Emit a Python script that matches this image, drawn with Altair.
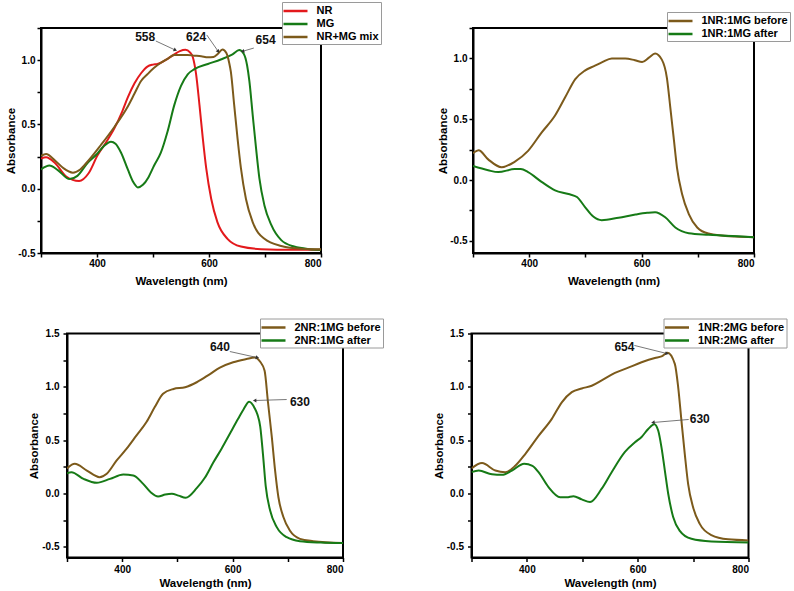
import math
import altair as alt
import pandas as pd

FONT = "Liberation Sans"
RED = "#E3191C"
GREEN = "#167A16"
BROWN = "#7C5A1B"

# ---------------- Panel 1: NR, MG and their mixture ----------------
nr_wl = [300, 309, 325, 345, 368, 385, 401, 416, 431, 445, 455, 467, 479, 490, 500, 508,
         514, 526, 538, 548, 558, 566, 571, 577, 583, 589, 595, 604, 615, 633, 657, 693, 750, 800]
nr_ab = [0.235, 0.245, 0.20, 0.095, 0.06, 0.12, 0.26, 0.36, 0.47, 0.60, 0.71, 0.82, 0.90, 0.95, 0.965, 0.97,
         0.98, 1.01, 1.045, 1.07, 1.08, 1.06, 1.025, 0.89, 0.65, 0.39, 0.16, -0.08, -0.26, -0.39, -0.45, -0.47, -0.475, -0.475]

mg_wl = [300, 315, 330, 351, 365, 383, 400, 412, 425, 433, 443, 455, 465, 473, 482, 492, 502, 514,
         526, 538, 550, 562, 574, 598, 621, 642, 654, 662, 668, 672, 678, 684, 690, 699, 711, 729, 752, 780, 800]
mg_ab = [0.15, 0.18, 0.145, 0.075, 0.10, 0.20, 0.27, 0.33, 0.365, 0.35, 0.28, 0.15, 0.05, 0.01, 0.03, 0.09, 0.18, 0.28,
         0.445, 0.65, 0.80, 0.89, 0.93, 0.97, 1.005, 1.045, 1.078, 1.05, 0.96, 0.84, 0.575, 0.315, 0.08, -0.13, -0.28, -0.40, -0.45, -0.47, -0.475]

mix_wl = [300, 309, 325, 340, 357, 370, 383, 407, 431, 455, 467, 479, 490, 502, 514, 526, 538, 550,
          562, 574, 586, 598, 608, 616, 624, 631, 636, 639, 645, 651, 657, 666, 678, 699, 729, 764, 800]
mix_ab = [0.255, 0.27, 0.22, 0.16, 0.125, 0.15, 0.21, 0.34, 0.48, 0.64, 0.74, 0.84, 0.89, 0.94, 0.98, 1.01, 1.04, 1.04,
          1.04, 1.035, 1.03, 1.022, 1.025, 1.05, 1.083, 1.055, 0.98, 0.91, 0.65, 0.39, 0.16, -0.08, -0.26, -0.39, -0.445, -0.466, -0.47]

# ---------------- Panel 2: 1NR:1MG ----------------
b11_wl = [300, 310, 327, 351, 374, 398, 422, 446, 464, 482, 499, 517, 530, 547, 571, 588, 601, 613,
          624, 636, 645, 651, 657, 663, 672, 684, 699, 719, 766, 800]
b11_ab = [0.22, 0.245, 0.17, 0.105, 0.15, 0.24, 0.39, 0.53, 0.68, 0.83, 0.90, 0.94, 0.97, 1.0, 1.0, 0.985, 0.97, 1.006,
          1.04, 0.99, 0.84, 0.60, 0.35, 0.10, -0.115, -0.28, -0.39, -0.44, -0.465, -0.47]
a11_wl = [300, 327, 345, 374, 385, 398, 422, 446, 470, 485, 499, 514, 529, 559, 589, 610, 624, 642,
          660, 684, 719, 779, 800]
a11_ab = [0.115, 0.08, 0.065, 0.09, 0.09, 0.065, -0.015, -0.085, -0.115, -0.14, -0.22, -0.30, -0.33, -0.31, -0.284, -0.27, -0.265, -0.306,
          -0.39, -0.437, -0.45, -0.465, -0.47]

# ---------------- Panel 3: 2NR:1MG ----------------
b21_wl = [300, 314, 336, 359, 372, 390, 408, 426, 444, 459, 474, 493, 514, 535, 559, 577, 601, 625,
          640, 650, 658, 664, 671, 677, 683, 692, 704, 722, 746, 800]
b21_ab = [0.235, 0.278, 0.215, 0.153, 0.185, 0.31, 0.42, 0.545, 0.67, 0.81, 0.935, 0.98, 0.996, 1.043, 1.12, 1.18, 1.23, 1.26,
          1.275, 1.235, 1.15, 0.86, 0.53, 0.215, -0.035, -0.22, -0.35, -0.425, -0.447, -0.465]
a21_wl = [300, 308, 330, 354, 378, 402, 420, 438, 452, 465, 478, 490, 502, 515, 535, 550, 565, 580,
          595, 610, 620, 630, 640, 645, 650, 655, 660, 668, 680, 698, 722, 760, 800]
a21_ab = [0.19, 0.20, 0.137, 0.10, 0.137, 0.178, 0.169, 0.09, 0.01, -0.028, -0.01, -0.003, -0.02, -0.04, 0.05, 0.15, 0.29, 0.42,
          0.56, 0.70, 0.79, 0.86, 0.80, 0.74, 0.63, 0.37, 0.07, -0.16, -0.315, -0.41, -0.447, -0.46, -0.465]

# ---------------- Panel 4: 1NR:2MG ----------------
b12_wl = [300, 319, 343, 361, 379, 397, 421, 445, 463, 481, 499, 517, 535, 559, 583, 607, 631, 643,
          654, 667, 673, 679, 685, 691, 700, 712, 733, 763, 800]
b12_ab = [0.235, 0.285, 0.215, 0.20, 0.26, 0.37, 0.54, 0.70, 0.855, 0.95, 0.985, 1.01, 1.06, 1.13, 1.18, 1.23, 1.27, 1.285,
          1.32, 1.215, 1.0, 0.68, 0.37, 0.09, -0.13, -0.285, -0.39, -0.43, -0.44]
a12_wl = [300, 313, 337, 355, 373, 395, 410, 421, 439, 460, 472, 484, 499, 514, 535, 553, 577, 595,
          607, 619, 630, 637, 643, 649, 655, 664, 676, 697, 733, 800]
a12_ab = [0.20, 0.215, 0.18, 0.175, 0.215, 0.28, 0.26, 0.20, 0.06, -0.035, -0.035, -0.025, -0.055, -0.08, 0.045, 0.20, 0.39, 0.48,
          0.53, 0.605, 0.65, 0.59, 0.43, 0.215, 0.0, -0.22, -0.35, -0.425, -0.45, -0.46]

# Peak annotations: label, label position, arrow start and arrow tip (data units)
p1_notes = dict(text=["558", "624", "654"],
                tx=[486, 577, 701], ty=[1.18, 1.18, 1.153],
                x0=[505, 596, 680], y0=[1.149, 1.196, 1.094],
                x1=[539, 616, 661], y1=[1.08, 1.071, 1.07])
p3_notes = dict(text=["640", "630"],
                tx=[577, 722], ty=[1.378, 0.862],
                x0=[595, 698], y0=[1.331, 0.881],
                x1=[644, 641], y1=[1.275, 0.872])
p4_notes = dict(text=["654", "630"],
                tx=[576, 712], ty=[1.369, 0.694],
                x0=[594, 692], y0=[1.388, 0.694],
                x1=[652, 628.5], y1=[1.313, 0.666])


def quarter_ticks(lo, hi):
    n = int(round((hi - lo) / 0.25))
    return [lo + 0.25 * i for i in range(n + 1)]


def panel(series, ydom, yticks, w, h, leg_xy, notes=None, row=1):
    rows = []
    for name, color, wl, ab in series:
        for a, b in zip(wl, ab):
            rows.append({"series": name, "wl": a, "ab": b})
    df = pd.DataFrame(rows)
    names = [s[0] for s in series]
    colors = [s[1] for s in series]

    if row == 1:
        ytick, ylp, ytp, xlp, xtp = 4, 2, 1, 1, 7
    else:
        ytick, ylp, ytp, xlp, xtp = 4, 4, 2, 3, 3

    axis_style = dict(domainColor="black", domainWidth=2, tickColor="black", tickWidth=1.5,
                      labelFont=FONT, labelFontWeight="bold", labelFontSize=10, labelColor="black",
                      titleFont=FONT, titleFontWeight="bold", titleFontSize=11.5, titleColor="black",
                      grid=False)
    x_enc = alt.X("wl:Q", title="Wavelength (nm)",
                  scale=alt.Scale(domain=[300, 800], nice=False, zero=False),
                  axis=alt.Axis(values=list(range(300, 801, 100)),
                                labelExpr="datum.value % 200 == 0 && datum.value > 300 ? datum.value + '' : ''",
                                tickSize=4, labelPadding=xlp, titlePadding=xtp, **axis_style))
    y_enc = alt.Y("ab:Q", title="Absorbance",
                  scale=alt.Scale(domain=ydom, nice=False, zero=False),
                  axis=alt.Axis(values=yticks,
                                labelExpr="datum.value % 0.5 == 0 ? (datum.value < 0 ? '-' : '') + format(abs(datum.value), '.1f') : ''",
                                tickSize=ytick, labelPadding=ylp, titlePadding=ytp, **axis_style))

    lines = alt.Chart(df).mark_line(interpolate="monotone", strokeWidth=2, clip=True).encode(
        x=x_enc, y=y_enc,
        color=alt.Color("series:N", sort=names,
                        scale=alt.Scale(domain=names, range=colors),
                        legend=alt.Legend(title=None, orient="none", legendX=leg_xy[0], legendY=leg_xy[1],
                                          symbolType="M-2,0H2", symbolSize=144, symbolStrokeWidth=2.5,
                                          symbolOffset=4.5, labelOffset=13.5,
                                          labelFont=FONT, labelFontSize=11, labelFontWeight="bold",
                                          labelColor="black", labelLimit=300,
                                          fillColor="white", strokeColor="#9a9a9a",
                                          padding=1.5, rowPadding=0)),
    )
    layers = [lines]
    if notes:
        nd = pd.DataFrame({"label": notes["text"], "wl": notes["tx"], "ab": notes["ty"]})
        kx = w / 500.0
        ky = h / (ydom[1] - ydom[0])
        ad = pd.DataFrame({"wl": notes["x0"], "ab": notes["y0"], "wl2": notes["x1"], "ab2": notes["y1"]})
        hd = pd.DataFrame({"wl": notes["x1"], "ab": notes["y1"]})
        hd["ang"] = [
            math.degrees(math.atan2((x1 - x0) * kx, (y1 - y0) * ky)) % 360
            for x0, y0, x1, y1 in zip(notes["x0"], notes["y0"], notes["x1"], notes["y1"])
        ]
        layers.append(alt.Chart(ad).mark_rule(color="#555555", strokeWidth=0.8).encode(
            x=x_enc, y=y_enc, x2="wl2:Q", y2="ab2:Q"))
        layers.append(alt.Chart(hd).mark_point(shape="triangle", filled=True, color="#333333",
                                               size=16, opacity=1).encode(
            x=x_enc, y=y_enc, angle=alt.Angle("ang:Q", scale=None)))
        layers.append(alt.Chart(nd).mark_text(font=FONT, fontWeight="bold", fontSize=12, color="#111111",
                                              align="center", baseline="middle").encode(
            x=x_enc, y=y_enc, text="label:N"))
    return alt.layer(*layers).properties(width=w, height=h)


p1 = panel([("NR", RED, nr_wl, nr_ab), ("MG", GREEN, mg_wl, mg_ab), ("NR+MG mix", BROWN, mix_wl, mix_ab)],
           [-0.5, 1.25], quarter_ticks(-0.5, 1.25), 280, 225, (241, -26), p1_notes, row=1)
p2 = panel([("1NR:1MG before", BROWN, b11_wl, b11_ab), ("1NR:1MG after", GREEN, a11_wl, a11_ab)],
           [-0.6, 1.25], quarter_ticks(-0.5, 1.25), 281, 225, (194, -16), None, row=1)
p3 = panel([("2NR:1MG before", BROWN, b21_wl, b21_ab), ("2NR:1MG after", GREEN, a21_wl, a21_ab)],
           [-0.6, 1.5], quarter_ticks(-0.5, 1.5), 276, 224, (193, -15), p3_notes, row=2)
p4 = panel([("1NR:2MG before", BROWN, b12_wl, b12_ab), ("1NR:2MG after", GREEN, a12_wl, a12_ab)],
           [-0.6, 1.5], quarter_ticks(-0.5, 1.5), 277, 224, (192, -15), p4_notes, row=2)

# empty gutter that indents the lower row
gutter = alt.Chart(pd.DataFrame({"g": [0]})).mark_point(opacity=0).encode(
    x=alt.X("g:Q", axis=None), y=alt.Y("g:Q", axis=None)
).properties(width=1, height=1, view=alt.ViewBackground(stroke="transparent"))


def indep(c):
    return c.resolve_scale(color="independent").resolve_legend(color="independent")


top_row = indep(alt.hconcat(p1, p2, spacing=53))
lower_left = indep(alt.hconcat(gutter, p3, spacing=-19))
bottom_row = indep(alt.hconcat(lower_left, p4, spacing=46.5))

chart = indep(alt.vconcat(top_row, bottom_row, spacing=28.5)).properties(
    padding={"left": 4, "top": 0, "right": 0, "bottom": 0},
    background="white",
).configure(font=FONT).configure_view(stroke="black", strokeWidth=2)

chart.save("out.html", embed_options={"renderer": "svg", "actions": False})
